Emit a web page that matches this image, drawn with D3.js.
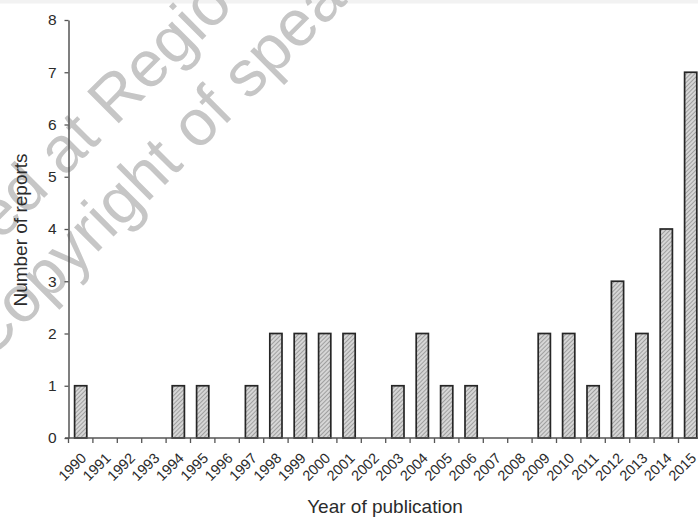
<!DOCTYPE html>
<html><head><meta charset="utf-8">
<script src="https://cdn.jsdelivr.net/npm/d3@7"></script>
<style>body{margin:0;background:#fff;overflow:hidden}svg{display:block}</style>
</head><body>
<svg id="c" width="698" height="517"></svg>
<script>
const years = ["1990","1991","1992","1993","1994","1995","1996","1997","1998","1999","2000","2001","2002","2003","2004","2005","2006","2007","2008","2009","2010","2011","2012","2013","2014","2015"];
const counts = [1,0,0,0,1,1,0,1,2,2,2,2,0,1,2,1,1,0,0,2,2,1,3,2,4,7];
const yTicks = [0,1,2,3,4,5,6,7,8];
const xTitle = "Year of publication";
const yTitle = "Number of reports";
const watermarkLines = ["ed at Regio", "Copyright of spea"];

const font = "'Liberation Sans', Arial, Helvetica, sans-serif";
const svg = d3.select("#c");

svg.append("rect").attr("x",0).attr("y",0).attr("width",698).attr("height",3.5).attr("fill","#f2f2f2");

const defs = svg.append("defs");
const pat = defs.append("pattern").attr("id","hatch").attr("patternUnits","userSpaceOnUse")
  .attr("width",3).attr("height",3).attr("patternTransform","rotate(45)");
pat.append("rect").attr("width",3).attr("height",3).attr("fill","#d6d6d6");
pat.append("line").attr("x1",0).attr("y1",0).attr("x2",0).attr("y2",3).attr("stroke","#7a7a7a").attr("stroke-width",1.2);

// watermark
const wm = svg.append("g").attr("fill","#c6c6c6").attr("font-family",font).attr("font-size",65);
const wmPos = [[0,242],[-12,362]];
watermarkLines.forEach((t,i)=>{
  wm.append("text").attr("transform",`translate(${wmPos[i][0]},${wmPos[i][1]}) rotate(-45)`).text(t);
});

const x = d3.scaleBand().domain(years).range([68.5, 702.9]).paddingInner(0.5).paddingOuter(0.25);
const y = d3.scaleLinear().domain([0,8]).range([438,20]);
const step = x.step();

// bars
svg.append("g").selectAll("rect").data(years.map((d,i)=>({year:d,v:counts[i]})).filter(d=>d.v>0))
  .join("rect")
  .attr("x",d=>x(d.year)).attr("width",x.bandwidth())
  .attr("y",d=>y(d.v)).attr("height",d=>y(0)-y(d.v))
  .attr("fill","url(#hatch)").attr("stroke","#262626").attr("stroke-width",1.7);

// y axis
const ya = svg.append("g").attr("transform","translate(68.5,0)")
  .call(d3.axisLeft(y).tickValues(yTicks).tickFormat(d3.format("d")).tickSize(4).tickSizeOuter(0).tickPadding(8));
ya.select(".domain").attr("stroke","#555").attr("stroke-width",1.5);
ya.selectAll(".tick line").attr("stroke","#555").attr("stroke-width",1.3);
ya.selectAll(".tick text").attr("font-family",font).attr("font-size",15.5).attr("fill","#2b2b2b");

// x axis
const xg = svg.append("g");
xg.append("line").attr("x1",65).attr("x2",698).attr("y1",y(0)).attr("y2",y(0)).attr("stroke","#555").attr("stroke-width",1.5);
xg.selectAll("line.tk").data(years).join("line").attr("class","tk")
  .attr("x1",d=>x(d)-step*0.25).attr("x2",d=>x(d)-step*0.25)
  .attr("y1",y(0)).attr("y2",y(0)+5).attr("stroke","#555").attr("stroke-width",1.3);
xg.selectAll("text").data(years).join("text")
  .attr("transform",d=>`translate(${x(d)+x.bandwidth()/2+6.5},459) rotate(-45)`)
  .attr("text-anchor","end").attr("font-family",font).attr("font-size",14.5).attr("fill","#2b2b2b")
  .text(d=>d);

// titles
svg.append("text").attr("x",385).attr("y",513).attr("text-anchor","middle")
  .attr("font-family",font).attr("font-size",19).attr("fill","#2b2b2b").text(xTitle);
svg.append("text").attr("transform","translate(27,230) rotate(-90)").attr("text-anchor","middle")
  .attr("font-family",font).attr("font-size",19).attr("fill","#2b2b2b").text(yTitle);
</script>
</body></html>
